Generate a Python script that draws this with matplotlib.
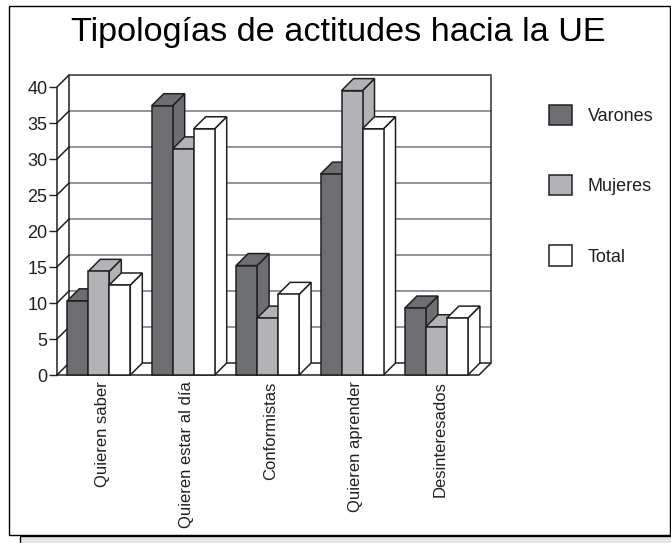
import matplotlib
matplotlib.use("Agg")
import numpy as np
import matplotlib.pyplot as plt
from matplotlib.patches import Polygon, Rectangle

plt.rcParams['font.family'] = ['Liberation Sans', 'DejaVu Sans']

categories = ["Quieren saber", "Quieren estar al día", "Conformistas",
              "Quieren aprender", "Desinteresados"]
series = ["Varones", "Mujeres", "Total"]
varones = [10.3, 37.4, 15.2, 27.9, 9.3]
mujeres = [14.4, 31.4, 7.9, 39.5, 6.7]
total = [12.5, 34.2, 11.2, 34.2, 7.9]
yticks = [0, 5, 10, 15, 20, 25, 30, 35, 40]

W, H = 671, 543
DARK = "#6d6e71"
GRAY = "#b1b3b6"
WHITE = "#ffffff"
EDGE = "#231f20"
GRID = "#808285"
LW = 1.1

# depth of the fake 3d box, in data units
ddx = 12 / 84.4
ddy = 12 / 7.2
bar_w = 21 / 84.4
bar_off = 10.3 / 84.4


def px_box(l, t, r, b):
    return [l / W, 1 - b / H, (r - l) / W, (b - t) / H]


fig = plt.figure(figsize=(W / 100, H / 100), dpi=100)

# page frame and the grey box under it
fig.add_artist(Rectangle((8.5 / W, 1 - 535 / H), 661 / W, 529 / H, transform=fig.transFigure,
                         fc="white", ec="black", lw=1, zorder=-2))
fig.add_artist(Rectangle((20 / W, -0.01), 660 / W, 7.5 / H + 0.01, transform=fig.transFigure,
                         fc="#e3e4e5", ec="black", lw=1, zorder=-3))

ax = fig.add_axes(px_box(57, 75, 491, 375))
ax.set_xlim(0, 5 + ddx)
ax.set_ylim(0, 40 + ddy)
ax.patch.set_alpha(0)
for s in ax.spines.values():
    s.set_visible(False)

n = len(categories)
# back wall gridlines
for t in yticks[1:-1]:
    ax.plot([ddx, n + ddx], [t + ddy, t + ddy], color=GRID, lw=1.2, zorder=1, clip_on=False)
    ax.plot([0, ddx], [t, t + ddy], color=EDGE, lw=LW, zorder=1, clip_on=False)
# box outline
ax.plot([0, 0, ddx, ddx], [0, 40, 40 + ddy, ddy], color=EDGE, lw=LW, zorder=1, clip_on=False)
ax.plot([0, n, n + ddx, ddx, 0], [0, 0, ddy, ddy, 0], color=EDGE, lw=LW, zorder=1, clip_on=False)
ax.plot([ddx, n + ddx, n + ddx], [40 + ddy, 40 + ddy, ddy], color="#414042", lw=1.2, zorder=1,
        clip_on=False)

z = 3
handles = []
for j, (vals, col) in enumerate(zip([varones, mujeres, total], [DARK, GRAY, WHITE])):
    for i, v in enumerate(vals):
        x0 = i + bar_off + j * bar_w
        x1 = x0 + bar_w
        zz = z + i * 10 + j * 3
        ax.add_patch(Polygon([(x1, 0), (x1 + ddx, ddy), (x1 + ddx, v + ddy), (x1, v)],
                             fc=col, ec=EDGE, lw=LW, zorder=zz, clip_on=False))
        ax.add_patch(Polygon([(x0, v), (x0 + ddx, v + ddy), (x1 + ddx, v + ddy), (x1, v)],
                             fc=col, ec=EDGE, lw=LW, zorder=zz + 1, clip_on=False))
    xs = np.arange(n) + bar_off + j * bar_w
    b = ax.bar(xs, vals, bar_w, align="edge", color=col, edgecolor=EDGE, lw=LW, label=series[j],
               clip_on=False)
    for i, r in enumerate(b):
        r.set_zorder(z + i * 10 + j * 3 + 2)
    handles.append(b)

ax.set_yticks(yticks)
ax.set_xticks(np.arange(n) + 0.535)
ax.set_xticklabels(categories, rotation=90, ha="center", va="top")
ax.tick_params(axis="y", length=6, width=1, color=EDGE, labelsize=13, labelcolor=EDGE, pad=1)
ax.tick_params(axis="x", length=0, labelsize=12, labelcolor=EDGE, pad=4.5)

fig.text(338 / W, 1 - 33 / H, "Tipologías de actitudes hacia la UE", fontsize=24.7, color="black",
         ha="center", va="center")

ax.legend(handles=handles, loc="upper left", bbox_to_anchor=(549 / W, 1 - 105 / H),
          bbox_transform=fig.transFigure, frameon=False, fontsize=13, borderpad=0, borderaxespad=0,
          handlelength=1.28, handleheight=1.33, labelspacing=2.78, handletextpad=0.85,
          labelcolor=EDGE)

fig.savefig("out.png", dpi=100)
